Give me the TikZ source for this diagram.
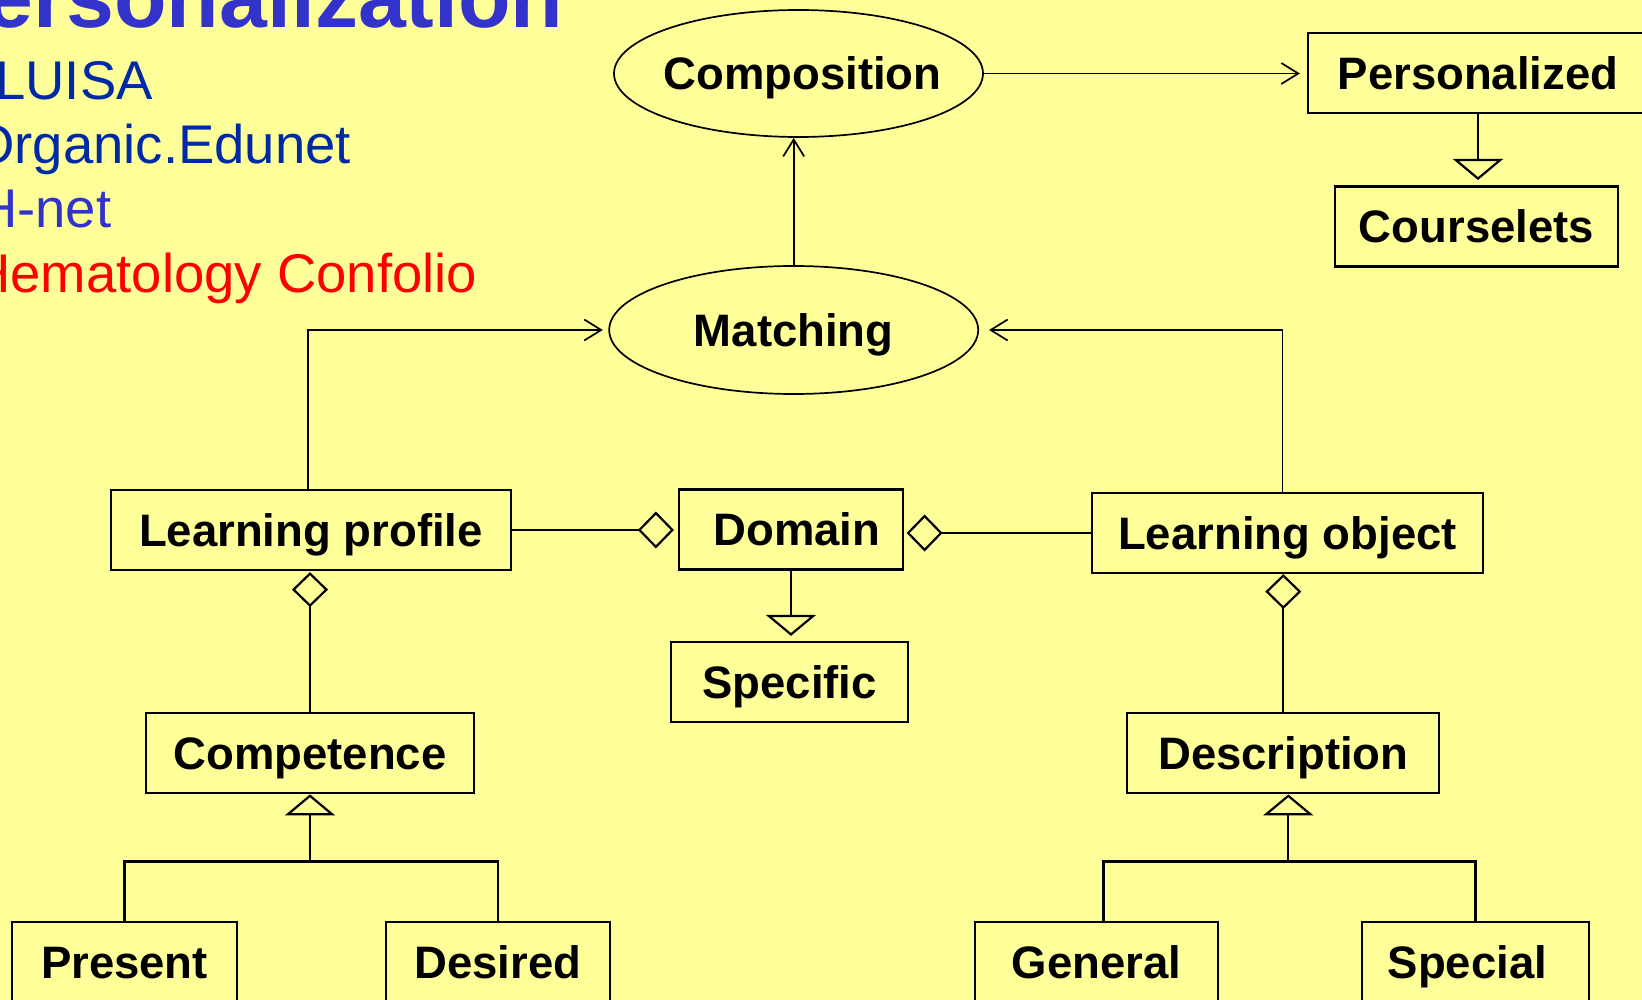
\documentclass[tikz,border=0pt]{standalone}
\usepackage{fontspec}
\setmainfont{Liberation Sans}
\usetikzlibrary{arrows.meta,shapes.geometric}
\definecolor{bg}{HTML}{FFFF99}
\definecolor{titleblue}{HTML}{3333CC}
\definecolor{darkblue}{HTML}{0029A6}
\definecolor{hnetblue}{HTML}{3333CC}
\definecolor{hemred}{HTML}{FF0000}
\tikzset{
  umlbox/.style={draw, line width=2.2pt, rectangle, minimum height=80pt, inner sep=0pt,
    font=\bfseries\fontsize{45.5}{50}\selectfont, text height=32.6pt, text depth=0pt},
  usecase/.style={draw, ellipse, line width=1.7pt, inner sep=0pt, minimum width=369pt,
    font=\bfseries\fontsize{45.5}{50}\selectfont, text height=32.6pt, text depth=0pt},
  assoc/.style={line width=1.7pt, -{Straight Barb[length=17pt,width=21pt]}},
  aggh/.style={line width=2.2pt, -{Diamond[open,length=36pt,width=37pt]}},
  aggv/.style={line width=2.2pt, -{Diamond[open,length=35pt,width=36pt]}},
  treeline/.style={line width=2.2pt},
  gen/.style={line width=2.2pt, -{Triangle[open,length=21pt,width=50pt]}},
  sidetext/.style={anchor=base west, inner sep=0pt, font=\fontsize{54.5}{60}\selectfont},
}
\begin{document}
\begin{tikzpicture}[x=1pt,y=-1pt]
\useasboundingbox (0,0) rectangle (1642,1000);
\clip (0,0) rectangle (1642,1000);
\fill[bg] (0,0) rectangle (1642,1000);

% title and side list
\node[anchor=base west, inner sep=0pt, font=\bfseries\fontsize{86}{90}\selectfont, text=titleblue] (title) at (-15,28) {ersonalization};
\node[sidetext, text=darkblue] (luisa) at (-5,100) {LUISA};
\node[sidetext, text=darkblue] (organic) at (-28,164) {Organic.Edunet};
\node[sidetext, text=hnetblue] (hnet) at (-22,228) {H-net};
\node[sidetext, text=hemred] (hema) at (-29,293) {Hematology Confolio};

% use cases
\node[usecase, minimum height=127pt] (Composition) at (798.5,73.5) {\makebox[0pt]{\hspace*{8pt}Composition}};
\node[usecase, minimum height=128pt] (Matching) at (793.7,330) {\makebox[0pt]{Matching}};

% classes
\node[umlbox, minimum width=340pt] (Personalized) at (1478,73) {Personalized};
\node[umlbox, minimum width=283pt] (Courselets) at (1476.5,226.5) {Courselets};
\node[umlbox, minimum width=400pt] (LP) at (311,530) {Learning profile};
\node[umlbox, minimum width=224pt] (Domain) at (791,529.5) {\hspace*{12pt}Domain};
\node[umlbox, minimum width=391pt] (LO) at (1287.5,533) {Learning object};
\node[umlbox, minimum width=237pt] (Specific) at (789.5,682) {Specific};
\node[umlbox, minimum width=328.6pt] (Competence) at (310,753.3) {Competence};
\node[umlbox, minimum width=312pt] (Description) at (1283.3,753.3) {Description};
\node[umlbox, minimum width=225pt] (Present) at (124.5,962) {Present};
\node[umlbox, minimum width=224pt] (Desired) at (498,962) {Desired};
\node[umlbox, minimum width=243pt] (General) at (1096.5,962) {General};
\node[umlbox, minimum width=227pt] (Special) at (1475.5,962) {Special\hspace*{16pt}};

% associations
\draw[assoc, shorten >=7pt] (Composition.east) -- (Composition.east -| Personalized.west);
\draw[assoc] (Matching.north) -- (Matching.north |- Composition.south);
\draw[assoc, shorten >=5.5pt] ([xshift=-3pt]LP.north) |- (Matching.west);
\draw[assoc, shorten >=10pt] ([xshift=-5pt]LO.north) |- (Matching.east);

% aggregations
\draw[aggh, shorten >=4pt] (LP.east) -- (LP.east -| Domain.west);
\draw[aggh, shorten >=2.5pt] (LO.west) -- (LO.west -| Domain.east);
\draw[aggv, shorten >=1pt] (Competence.north) -- (Competence.north |- LP.south);
\draw[aggv] (Description.north) -- (Description.north |- LO.south);

% generalizations
\draw[gen, shorten >=5pt] (Domain.south) -- (Domain.south |- Specific.north);
\draw[gen, shorten >=5.4pt] (Personalized.south) -- (Personalized.south |- Courselets.north);

\coordinate (cj) at ([yshift=-67pt]Competence.south);
\draw[treeline] (Present.north) |- (cj) -| (Desired.north);
\draw[gen] (cj) -- (Competence.south);

\coordinate (dj) at ([xshift=5pt,yshift=-67pt]Description.south);
\draw[treeline] ([xshift=7pt]General.north) |- (dj) -| (Special.north);
\draw[gen] (dj) -- (dj |- Description.south);
\end{tikzpicture}
\end{document}
